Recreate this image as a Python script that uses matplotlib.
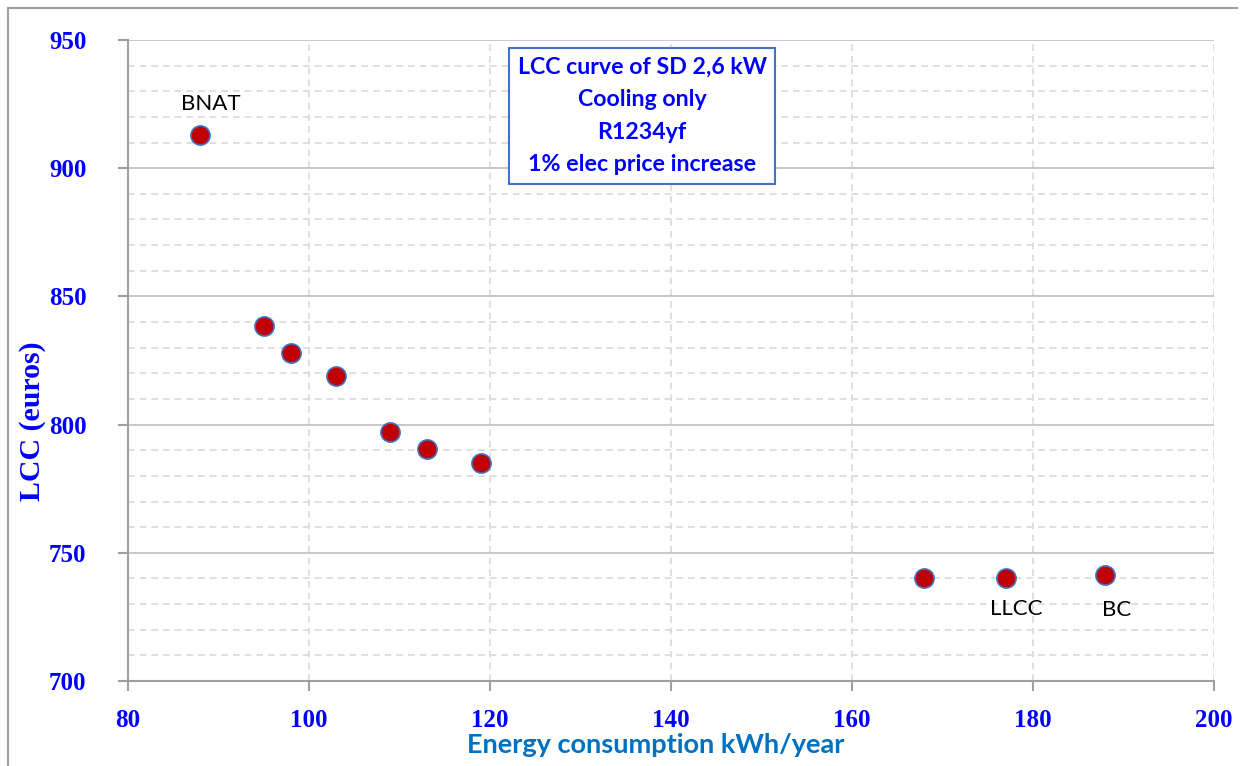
import matplotlib
matplotlib.use("Agg")
import matplotlib.pyplot as plt
from matplotlib.lines import Line2D
from matplotlib.ticker import MultipleLocator

energy = [88, 95, 98, 103, 109, 113, 119, 168, 177, 188]
lcc = [913, 838.5, 828, 819, 797, 790.5, 785, 740, 740, 741.5]
point_labels = {"BNAT": 0, "LLCC": 8, "BC": 9}
x_ticks = [80, 100, 120, 140, 160, 180, 200]
y_ticks = [700, 750, 800, 850, 900, 950]
box_text = "LCC curve of SD 2,6 kW\nCooling only\nR1234yf\n1% elec price increase"

W, H = 1247, 766
L, R, T, B = 128, 1214, 40, 681
fig = plt.figure(figsize=(W/100, H/100), dpi=100)
ax = fig.add_axes([L/W, 1-B/H, (R-L)/W, (B-T)/H])

ax.set_xlim(80, 200)
ax.set_ylim(700, 950)
ax.set_xticks(x_ticks)
ax.set_yticks(y_ticks)
ax.yaxis.set_minor_locator(MultipleLocator(10))

ax.grid(which="major", axis="y", color="#BFBFBF", linewidth=1.2, linestyle="-")
ax.grid(which="minor", axis="y", color="#D9D9D9", linewidth=1.2, linestyle=(0, (4, 3)))
ax.grid(which="major", axis="x", color="#D9D9D9", linewidth=1.2, linestyle=(0, (4, 3)))
ax.set_axisbelow(True)

for s in ["top", "right"]:
    ax.spines[s].set_visible(False)
for s in ["left", "bottom"]:
    ax.spines[s].set_color("#A0A0A0")
    ax.spines[s].set_linewidth(1.5)

ax.tick_params(which="major", direction="out", length=7, width=1.5, color="#A0A0A0",
               labelcolor="#0000FF")
ax.tick_params(axis="y", which="major", pad=23)
ax.tick_params(axis="x", which="major", pad=13)
ax.tick_params(which="minor", length=0)
for lab in ax.get_xticklabels() + ax.get_yticklabels():
    lab.set_fontfamily("Liberation Serif")
    lab.set_fontweight("bold")
    lab.set_fontsize(18)

ax.scatter(energy, lcc, s=190, color="#C00000", edgecolors="#4472C4", linewidths=1.2, zorder=3)

ax.set_xlabel("Energy consumption kWh/year", fontfamily="Lato", fontweight="bold",
              fontsize=19.5, color="#0070C0")
ax.xaxis.set_label_coords((656-L)/(R-L), -(745-B)/(B-T))
ax.xaxis.label.set_va("center")
ax.set_ylabel("LCC (euros)", fontfamily="Liberation Serif", fontweight="bold",
              fontsize=21.5, color="#0000FF")
ax.yaxis.set_label_coords(-(L-33)/(R-L), (B-421)/(B-T))
ax.yaxis.label.set_va("center")

offsets = {"BNAT": (1.1, 12), "LLCC": (1.2, -12), "BC": (1.2, -14)}
for name, i in point_labels.items():
    dx, dy = offsets[name]
    ax.text(energy[i] + dx, lcc[i] + dy, name, fontfamily="Lato", fontsize=16,
            color="black", ha="center", va="center")

ax.text((642-L)/(R-L), (B-116)/(B-T), box_text,
        transform=ax.transAxes, ha="center", va="center", multialignment="center",
        fontfamily="Lato", fontweight="bold", fontsize=16.7, color="#0000FF",
        linespacing=1.68,
        bbox=dict(boxstyle="square,pad=0.38", facecolor="white", edgecolor="#4472C4", linewidth=1.5),
        zorder=5)

fig.add_artist(Line2D([8/W, 8/W], [0, 1-8/H], color="#A0A0A0", linewidth=1.5))
fig.add_artist(Line2D([8/W, 1237/W], [1-8/H, 1-8/H], color="#A0A0A0", linewidth=1.5))

fig.savefig("out.png", dpi=100)
